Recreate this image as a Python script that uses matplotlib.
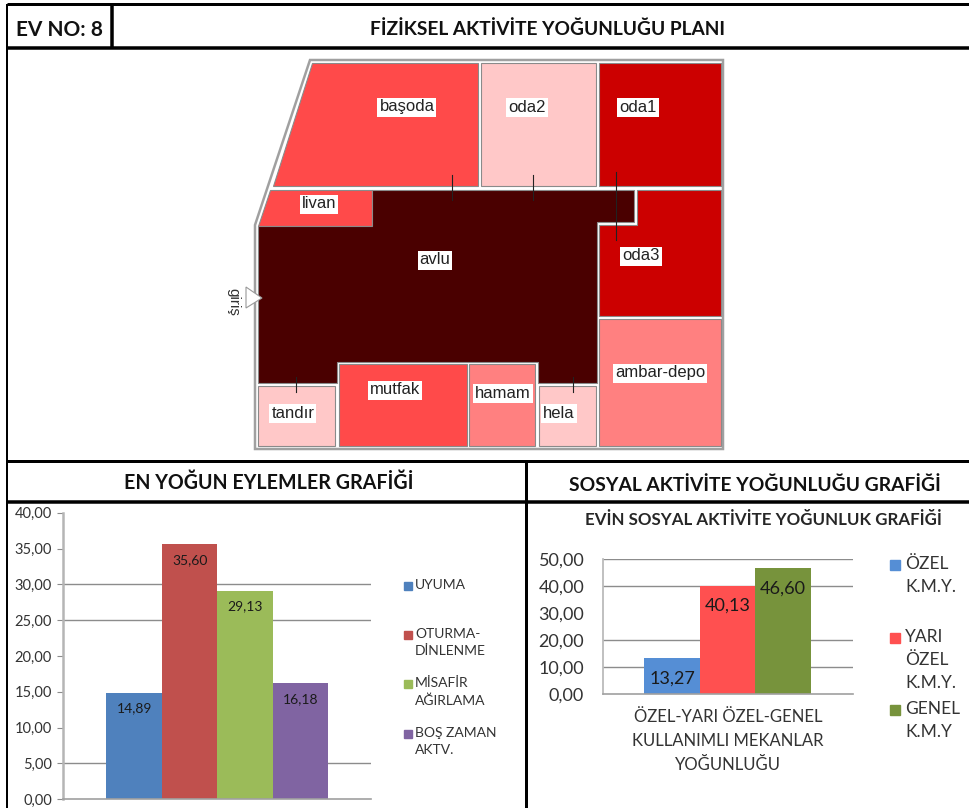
import numpy as np
import matplotlib
matplotlib.use("Agg")
import matplotlib.pyplot as plt
from matplotlib.patches import Polygon, Rectangle

plt.rcParams['font.family'] = ['Lato', 'DejaVu Sans']

W, H = 970, 808

# activity charts
ACT_NAMES = ["UYUMA", "OTURMA-\nDİNLENME", "MİSAFİR\nAĞIRLAMA", "BOŞ ZAMAN\nAKTV."]
ACT_VALUES = [14.89, 35.60, 29.13, 16.18]
ACT_TICKS = [0, 5, 10, 15, 20, 25, 30, 35, 40]
ACT_GRID = [5, 25, 30]
ACT_COLORS = ["#4f81bd", "#c0504d", "#9bbb59", "#8064a2"]

SOC_NAMES = ["ÖZEL\nK.M.Y.", "YARI\nÖZEL\nK.M.Y.", "GENEL\nK.M.Y"]
SOC_VALUES = [13.27, 40.13, 46.60]
SOC_TICKS = [0, 10, 20, 30, 40, 50]
SOC_GRID = [10, 20, 40, 50]
SOC_COLORS = ["#558ed5", "#ff5050", "#77933c"]

# floor plan, pixel outlines
DARK, RED, MID, PINK, PALE = "#4a0000", "#cc0000", "#ff4a4a", "#ff8080", "#ffc8c8"
ROOMS = [
    ([(312, 63), (478, 63), (478, 186), (273, 186)], MID),
    ([(481, 63), (596, 63), (596, 186), (481, 186)], PALE),
    ([(599, 63), (721, 63), (721, 186), (599, 186)], RED),
    ([(270, 190), (372, 190), (372, 226), (258, 226)], MID),
    ([(372, 190), (634, 190), (634, 222), (597, 222), (597, 383), (538, 383), (538, 362),
      (337, 362), (337, 383), (258, 383), (258, 226), (372, 226)], DARK),
    ([(637, 190), (721, 190), (721, 316), (599, 316), (599, 225), (637, 225)], RED),
    ([(599, 319), (721, 319), (721, 446), (599, 446)], PINK),
    ([(258, 386), (335, 386), (335, 446), (258, 446)], PALE),
    ([(339, 364), (467, 364), (467, 446), (339, 446)], MID),
    ([(469, 364), (535, 364), (535, 446), (469, 446)], PINK),
    ([(539, 386), (596, 386), (596, 446), (539, 446)], PALE),
]
ROOM_LABELS = [("başoda", 407, 107), ("oda2", 527, 107), ("oda1", 638, 107), ("livan", 319, 204),
               ("avlu", 435, 260), ("oda3", 641, 256), ("ambar-depo", 660, 373), ("mutfak", 395, 390),
               ("hamam", 503, 393), ("tandır", 293, 413), ("hela", 559, 413)]
OUTLINE = [(310, 60), (723, 60), (723, 449), (255, 449), (255, 225)]
DOORS = [(452, 175, 200), (533, 175, 200), (616, 172, 240), (296, 377, 392), (573, 377, 392)]
RULES = [(7, 4, 970, 4, 3), (7, 47.5, 970, 47.5, 3.5), (7, 461, 970, 461, 3), (7, 502, 970, 502, 3.5),
         (7, 4, 7, 808, 2), (112, 4, 112, 47, 3.5), (526, 461, 526, 808, 3)]


def px_axes(fig, left, right, top, bottom):
    return fig.add_axes([left/W, 1-bottom/H, (right-left)/W, (bottom-top)/H])


def bar_chart(ax, values, colors, bar_w, first_c, left, right, ymax, ticks, grid, tick_fs, lab_fs, lab_off):
    x = np.arange(len(values))
    ax.set_xlim((left-first_c)/bar_w, (right-first_c)/bar_w)
    ax.set_ylim(0, ymax)
    ax.hlines(grid, *ax.get_xlim(), color="#8c8c8c", lw=1.0, zorder=1)
    ax.bar(x, values, width=1, color=colors, zorder=2)
    ax.set_xticks([])
    ax.set_yticks(ticks)
    ax.set_yticklabels(["{:.2f}".format(t).replace(".", ",") for t in ticks], fontsize=tick_fs, color="#333333")
    ax.tick_params(axis="y", length=4, color="#8c8c8c", pad=4)
    for s in ["top", "right"]:
        ax.spines[s].set_visible(False)
    ax.spines["left"].set_color("#b5b5b5")
    ax.spines["left"].set_linewidth(1.8)
    ax.spines["bottom"].set_color("#a0a0a0")
    ax.spines["bottom"].set_linewidth(1.2)
    ax.patch.set_alpha(0)
    for xi, v in zip(x, values):
        ax.annotate("{:.2f}".format(v).replace(".", ","), (xi, v), xytext=(0, -lab_off), textcoords="offset points",
                    ha="center", va="center", fontsize=lab_fs, color="#1a1a1a", zorder=3)


def main():
    fig = plt.figure(figsize=(W/100, H/100), dpi=100)
    bg = fig.add_axes([0, 0, 1, 1])
    bg.set_xlim(0, W)
    bg.set_ylim(H, 0)
    bg.axis("off")

    for x0, y0, x1, y1, lw in RULES:
        bg.plot([x0, x1], [y0, y1], color="black", lw=lw*0.72, solid_capstyle="butt")

    bg.text(60, 30, "EV NO: 8", fontsize=15, fontweight="bold", ha="center", va="center", color="#111111")
    bg.text(548, 29, "FİZİKSEL AKTİVİTE YOĞUNLUĞU PLANI", fontsize=13.8, fontweight="bold", ha="center", va="center", color="#111111")
    bg.text(269, 483, "EN YOĞUN EYLEMLER GRAFİĞİ", fontsize=14.1, fontweight="bold", ha="center", va="center", color="#111111")
    bg.text(755, 485, "SOSYAL AKTİVİTE YOĞUNLUĞU GRAFİĞİ", fontsize=13.9, fontweight="bold", ha="center", va="center", color="#111111")

    # plan
    bg.add_patch(Polygon(OUTLINE, closed=True, fill=False, ec="#a0a0a0", lw=1.8))
    for pts, col in ROOMS:
        bg.add_patch(Polygon(pts, closed=True, fc=col, ec="#8a8a8a", lw=0.8))
    for x, y0, y1 in DOORS:
        bg.plot([x, x], [y0, y1], color="#222222", lw=0.8)
    for name, x, y in ROOM_LABELS:
        bg.text(x, y, name, fontsize=12, family="Liberation Sans", ha="center", va="center", color="#222222",
                bbox=dict(fc="white", ec="none", pad=1.5))
    bg.add_patch(Polygon([(246, 287), (246, 308), (262, 298)], closed=True, fc="white", ec="#999999", lw=0.8))
    bg.text(233, 302, "giriş", fontsize=11, family="Liberation Sans", rotation=270, ha="center", va="center", color="#333333")

    # left chart
    ax1 = px_axes(fig, 63, 371, 512.7, 799.3)
    bar_chart(ax1, ACT_VALUES, ACT_COLORS, 55.5, 134.25, 63, 371, 40, ACT_TICKS, ACT_GRID, 10.5, 10, 11.5)
    for name, col, y in zip(ACT_NAMES, ACT_COLORS, [586, 635, 684, 734]):
        bg.add_patch(Rectangle((404, y-4), 8, 8, color=col))
        bg.text(415, y-7, name, fontsize=10, ha="left", va="top", color="#333333", linespacing=1.5)

    # right chart
    bg.text(763, 520, "EVİN SOSYAL AKTİVİTE YOĞUNLUK GRAFİĞİ", fontsize=12.2, fontweight="bold", ha="center", va="center", color="#262626")
    ax2 = px_axes(fig, 603, 853, 559.3, 694)
    bar_chart(ax2, SOC_VALUES, SOC_COLORS, 55.5, 672, 603, 853, 50, SOC_TICKS, SOC_GRID, 13, 13, 14.5)
    ax2.tick_params(axis="y", length=0, pad=13.5)
    ax2.spines["left"].set_linewidth(1.2)
    bg.text(728, 741, "ÖZEL-YARI ÖZEL-GENEL\nKULLANIMLI MEKANLAR\nYOĞUNLUĞU", fontsize=12, ha="center", va="center", color="#333333", linespacing=1.6)
    for name, col, y in zip(SOC_NAMES, SOC_COLORS, [565, 638, 710]):
        bg.add_patch(Rectangle((890, y-5), 10, 10, color=col))
        bg.text(905, y-9, name, fontsize=12.5, ha="left", va="top", color="#333333", linespacing=1.55)

    fig.savefig("out.png", dpi=100)


if __name__ == "__main__":
    main()
